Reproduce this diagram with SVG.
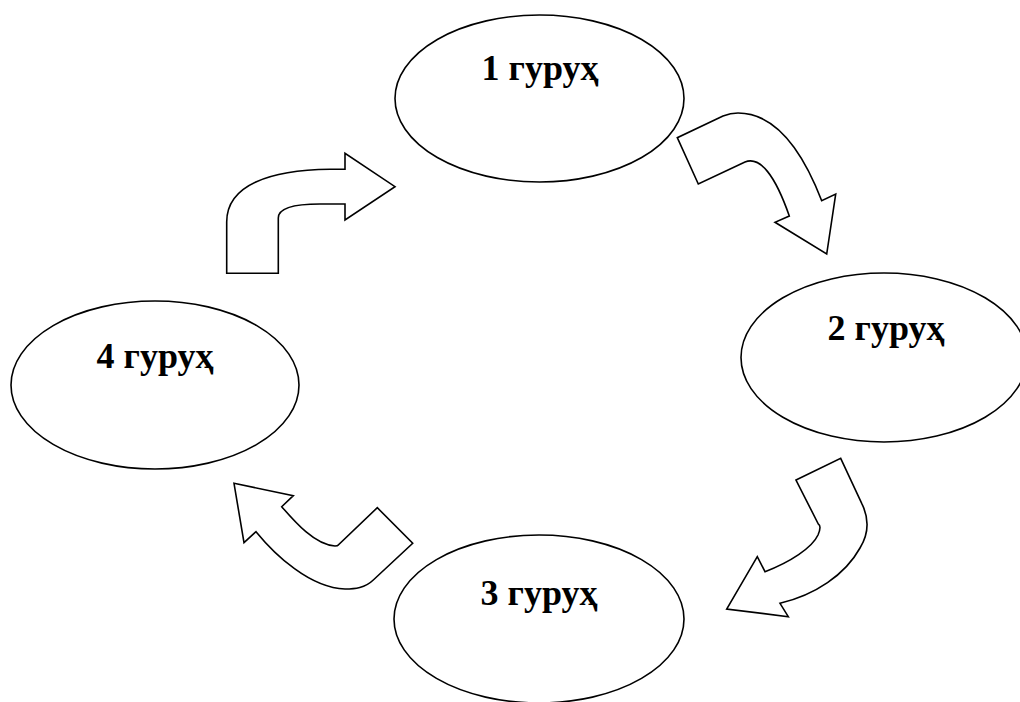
<svg xmlns="http://www.w3.org/2000/svg" width="1020" height="702" viewBox="0 0 1020 702">
<style>
.node{fill:#fff;stroke:#000;stroke-width:1.6}
.lbl{font-family:"Liberation Serif","Times New Roman",serif;font-weight:bold;font-size:36px;fill:#000;text-anchor:middle}
.arr{fill:#fff;stroke:#000;stroke-width:1.6;stroke-linejoin:miter}
</style>
<rect width="1020" height="702" fill="#fff"/>
<g id="connectors">
<path class="arr" d="M226.7,273.3 L278.3,273.3 L278.3,218 C278.3,208 295,204 320,204 L345,204 L345,220 L395,186.7 L345,153.3 L345,169.3 L330,169.3 C270,170 226.7,185 226.7,222 Z"/>
<path class="arr" d="M677.3,137.7 L698.3,184 L745,162 C760,156 775,175 789.3,216 L775,222.3 L826.7,254 L835.7,194 L821.7,200.7 C806,160 780,113 738,113 C733,113 728,114 723,116 Z"/>
<path class="arr" d="M796,480 L840.7,458.3 L861.7,503.3 C870,520 868,535 860,548 C845,575 815,595 780,603.3 L788.3,616.7 L726.7,609 L757.3,556.7 L765,571.7 C790,562 812,548 818,535 C821,528 820,525 818.3,524 Z"/>
<path class="arr" d="M234,483.3 L293.3,495.7 L281.7,506.7 C295,522 315,545 335,546 C337,546 338,545.5 338.3,545 L377.3,507.7 L412.7,543.3 L373.3,580 C365,588 355,589 345,589 C310,588 275,555 256,531.7 L244,542.7 Z"/>
</g>
<g id="node1">
<ellipse class="node" cx="539.5" cy="98.5" rx="144.5" ry="83.5"/>
<text class="lbl" x="540" y="80">1 гуруҳ</text>
</g>
<g id="node2">
<ellipse class="node" cx="884" cy="357.5" rx="143" ry="84.5"/>
<text class="lbl" x="886" y="340">2 гуруҳ</text>
</g>
<g id="node3">
<ellipse class="node" cx="539" cy="619" rx="145" ry="84"/>
<text class="lbl" x="539" y="605">3 гуруҳ</text>
</g>
<g id="node4">
<ellipse class="node" cx="155" cy="385" rx="144" ry="84"/>
<text class="lbl" x="155" y="368">4 гуруҳ</text>
</g>
</svg>
